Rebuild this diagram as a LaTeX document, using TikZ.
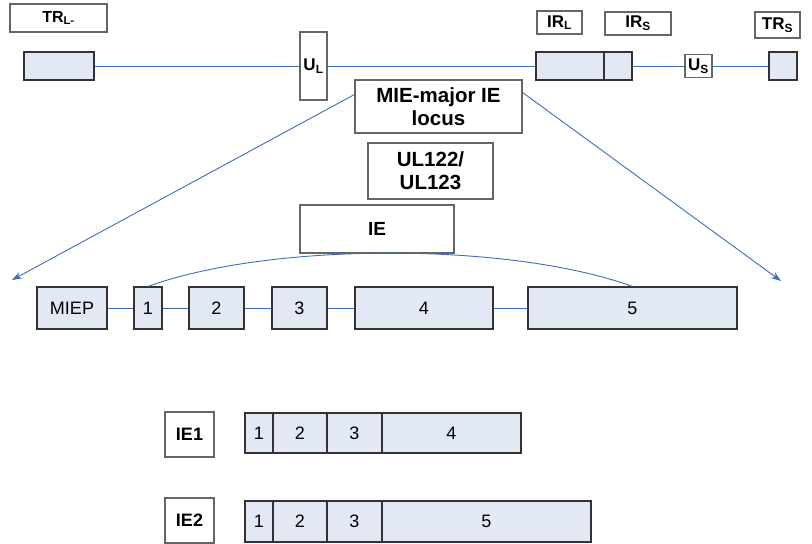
\documentclass[tikz,border=0pt]{standalone}
\usepackage{fontspec}
\setmainfont{Liberation Sans}
\usetikzlibrary{arrows.meta,positioning}
\definecolor{exonfill}{HTML}{E3E9F4}
\definecolor{linkblue}{HTML}{3D6DB5}

\begin{document}
\begin{tikzpicture}[x=1pt,y=-1pt,
    box/.style={draw=black!80, fill=exonfill, line width=1.1pt, inner sep=0pt, font=\fontsize{18}{20}\selectfont},
    tag/.style={draw=black!60, fill=white, line width=1.1pt, inner sep=0pt, align=center, font=\bfseries\fontsize{17}{19}\selectfont},
    bigtag/.style={tag, font=\bfseries\fontsize{20.5}{23}\selectfont},
    link/.style={draw=linkblue, line width=0.9pt},
    pointer/.style={link, -{Stealth[length=10pt,width=7pt]}}]
    \useasboundingbox (0,0) rectangle (812,544);

    % genome
    \node[tag, minimum width=97, minimum height=28, font=\bfseries\fontsize{16}{18}\selectfont] (trllab) at (58.5,18) {TR\textsubscript{L-}};
    \node[box, minimum width=70, minimum height=28] (trl) at (59,66) {};
    \node[tag, minimum width=27, minimum height=68] (ul) at (313.5,66) {U\textsubscript{L}};
    \node[box, minimum width=68, minimum height=28] (irl) at (570,66) {};
    \node[box, minimum width=28, minimum height=28] (irs) at (618,66) {};
    \node[tag, minimum width=45, minimum height=23] (irllab) at (559.5,22.5) {IR\textsubscript{L}};
    \node[tag, minimum width=66, minimum height=23] (irslab) at (638,23.5) {IR\textsubscript{S}};
    \node[tag, minimum width=27, minimum height=23] (us) at (698.5,66) {U\textsubscript{S}};
    \node[tag, minimum width=45, minimum height=26] (trslab) at (777.5,25) {TR\textsubscript{S}};
    \node[box, minimum width=28, minimum height=28] (trs) at (783,66) {};

    \draw[link] (trl) -- (ul);
    \draw[link] (ul) -- (irl);
    \draw[link] (irs) -- (us);
    \draw[link] (us) -- (trs);

    % locus
    \node[bigtag, minimum width=167, minimum height=53] (mie) at (438.5,106.5) {MIE-major IE\\locus};
    \node[bigtag, minimum width=125, minimum height=56] (ul122) at (430.5,171) {UL122/\\UL123};
    \node[tag, minimum width=154, minimum height=48, font=\bfseries\fontsize{19}{21}\selectfont] (ie) at (377,229) {IE};

    \coordinate (lend) at (12,280);
    \coordinate (rend) at (781,281);
    \draw[pointer] ([yshift=12pt]mie.west) -- (lend);
    \draw[pointer] ([yshift=14pt]mie.east) -- (rend);

    % exons
    \node[box, minimum width=70, minimum height=42] (miep) at (72,308) {MIEP};
    \node[box, minimum width=28, minimum height=42] (e1) at (148,308) {1};
    \node[box, minimum width=55, minimum height=42] (e2) at (216.5,308) {2};
    \node[box, minimum width=55, minimum height=42] (e3) at (299.5,308) {3};
    \node[box, minimum width=138, minimum height=42] (e4) at (424,308) {4};
    \node[box, minimum width=209, minimum height=42] (e5) at (632.5,308) {5};

    \draw[link] (miep) -- (e1);
    \draw[link] (e1) -- (e2);
    \draw[link] (e2) -- (e3);
    \draw[link] (e3) -- (e4);
    \draw[link] (e4) -- (e5);
    \draw[link] (e1.north) .. controls (270,242) and (510,242) .. (e5.north);

    % transcripts
    \node[tag, minimum width=49, minimum height=45, font=\bfseries\fontsize{18}{20}\selectfont] (ie1) at (189.5,434.5) {IE1};
    \node[box, minimum width=28, minimum height=40] (a1) at (259,433) {1};
    \node[box, minimum width=54, minimum height=40] (a2) at (300,433) {2};
    \node[box, minimum width=55, minimum height=40] (a3) at (354.5,433) {3};
    \node[box, minimum width=139, minimum height=40] (a4) at (451.5,433) {4};

    \node[tag, minimum width=49, minimum height=45, font=\bfseries\fontsize{18}{20}\selectfont] (ie2) at (189.5,520.5) {IE2};
    \node[box, minimum width=28, minimum height=41] (b1) at (259,521.5) {1};
    \node[box, minimum width=54, minimum height=41] (b2) at (300,521.5) {2};
    \node[box, minimum width=55, minimum height=41] (b3) at (354.5,521.5) {3};
    \node[box, minimum width=209, minimum height=41] (b5) at (486.5,521.5) {5};
\end{tikzpicture}
\end{document}
